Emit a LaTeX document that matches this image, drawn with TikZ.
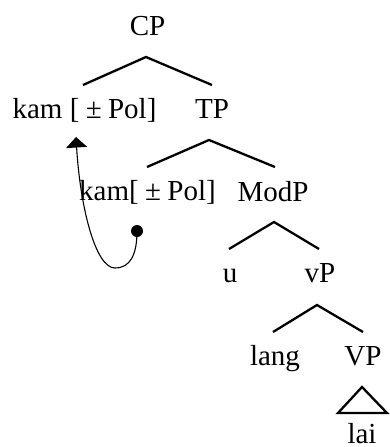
\documentclass[tikz,border=0pt]{standalone}
\usepackage{fontspec}
\setmainfont{Liberation Serif}
\usetikzlibrary{arrows.meta}
\begin{document}
\begin{tikzpicture}[x=1pt,y=-1pt,
  lbl/.style={anchor=base,inner sep=0pt,font=\fontsize{29}{32}\selectfont},
  branch/.style={line width=2.3pt,line cap=butt,line join=miter},
  move/.style={line width=1.1pt,-{Triangle[length=10.5pt,width=21pt]}}]
\useasboundingbox (0,0) rectangle (389,447);
\newcommand{\pol}{[\kern0.22em±\kern0.22em Pol]}
% labels
\node[lbl] (cp)   at (147.5,35)  {CP};
\node[lbl] (kamA) at (84.5,118)  {kam \pol};
\node[lbl] (tp)   at (212,118)   {TP};
\node[lbl] (kamB) at (147.5,200) {kam\pol};
\node[lbl] (modp) at (273,201)   {ModP};
\node[lbl] (u)    at (230,282)   {u};
\node[lbl] (vp)   at (320,282)   {vP};
\node[lbl] (lang) at (275,365)   {lang};
\node[lbl] (VP)   at (363,365)   {VP};
\node[lbl] (lai)  at (362,443.5) {lai};
% branch points
\coordinate (cpT) at (146,57);
\coordinate (cpL) at (83,85);
\coordinate (cpR) at (212,85);
\coordinate (tpT) at (209,140);
\coordinate (tpL) at (147,167);
\coordinate (tpR) at (275,167);
\coordinate (mpT) at (274,222);
\coordinate (mpL) at (229,249);
\coordinate (mpR) at (319,249);
\coordinate (vpT) at (317,305);
\coordinate (vpL) at (273,332);
\coordinate (vpR) at (363,332);
\coordinate (trT) at (362,387);
\coordinate (trL) at (338,413);
\coordinate (trR) at (387,413);
\draw[branch] (cpL) -- (cpT) -- (cpR);
\draw[branch] (tpL) -- (tpT) -- (tpR);
\draw[branch] (mpL) -- (mpT) -- (mpR);
\draw[branch] (vpL) -- (vpT) -- (vpR);
\draw[branch] (trT) -- (trL) -- (trR) -- cycle;
% movement of kam
\coordinate (trace) at (137,231);
\coordinate (low) at (115,268);
\coordinate (tip) at (76,137);
\fill (trace) circle (6);
\draw[move] (trace) .. controls (137,255) and (130,268) .. (low)
  .. controls (95,268) and (80,205) .. (tip);
\end{tikzpicture}
\end{document}
